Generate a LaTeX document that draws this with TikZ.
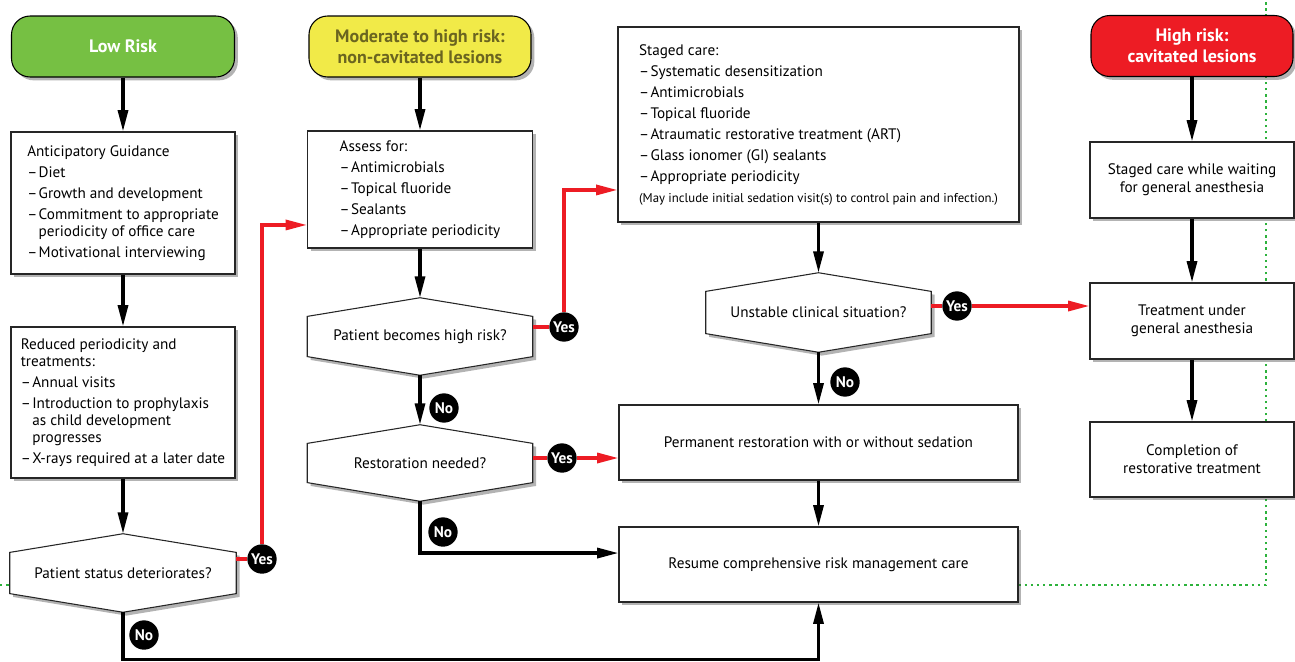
\documentclass[tikz,border=0pt]{standalone}
\usepackage{fontspec}
\setmainfont{PT Sans}
\usetikzlibrary{arrows.meta,shadows,backgrounds,calc}

\definecolor{lowgreen}{RGB}{118,192,67}
\definecolor{modyellow}{RGB}{241,234,72}
\definecolor{modtext}{RGB}{107,101,32}
\definecolor{highred}{RGB}{237,28,36}
\definecolor{loopgreen}{RGB}{45,178,60}

\newcommand{\dsh}{\makebox[8.6pt][l]{–}}
\newcommand{\ind}{\hspace*{8.6pt}}

\tikzset{
  softshadow/.style={drop shadow={shadow xshift=2.5pt, shadow yshift=-2.5pt, opacity=0.4, fill=black!75}},
  header/.style={draw=black, line width=0.8pt, rounded corners=14pt, minimum height=45.75pt,
    font=\fontsize{13.5}{16}\selectfont\bfseries, align=center, softshadow},
  box/.style={draw=black!85, line width=0.8pt, fill=white, inner sep=0pt,
    font=\fontsize{11.4}{12.75}\selectfont, softshadow},
  listbox/.style={box, align=left},
  plainbox/.style={box, align=center, font=\fontsize{11.4}{13.5}\selectfont},
  decision/.style={inner sep=0pt, align=center, font=\fontsize{11.4}{13.5}\selectfont},
  hexa/.style={draw=black!85, line width=0.8pt, fill=white, softshadow},
  badge/.style={circle, fill=black, text=white, inner sep=0pt, minimum size=22pt,
    font=\fontsize{11.5}{12}\selectfont\bfseries},
  arr/.style={line width=2.4pt, -{Triangle[length=16pt,width=7.5pt]}},
  redline/.style={line width=2.4pt, highred},
  redarr/.style={redline, -{Triangle[length=16pt,width=7.5pt]}},
  greenloop/.style={loopgreen, line width=1.8pt, dash pattern=on 1.8pt off 2.8pt}
}

\begin{document}
\begin{tikzpicture}[x=0.75pt, y=-0.75pt]
  \useasboundingbox (0,0) rectangle (1295,661);

  \node[header, fill=lowgreen, text=white, minimum width=167.25pt] (low) at (123,46.5) {Low Risk};
  \node[header, fill=modyellow, text=modtext, minimum width=166.5pt] (mod) at (420,46.5) {Moderate to high risk:\\non-cavitated lesions};
  \node[header, fill=highred, text=white, minimum width=151.5pt] (high) at (1192,46) {High risk:\\cavitated lesions};

  \node[listbox, minimum width=168pt, minimum height=106.5pt] (ag) at (123,203) {Anticipatory Guidance\\[3pt]
    \dsh Diet\\[3pt]
    \dsh Growth and development\\[3pt]
    \dsh Commitment to appropriate\\
    \ind periodicity of office care\\[3pt]
    \dsh Motivational interviewing};
  \node[listbox, minimum width=168pt, minimum height=113.25pt] (rp) at (123,402.5) {Reduced periodicity and\\
    treatments:\\[3pt]
    \dsh Annual visits\\[3pt]
    \dsh Introduction to prophylaxis\\
    \ind as child development\\
    \ind progresses\\[3pt]
    \dsh X-rays required at a later date};
  \node[decision, minimum width=169.5pt, minimum height=58.5pt] (d1) at (123,573) {Patient status deteriorates?};

  \node[listbox, minimum width=168.75pt, minimum height=87.75pt] (af) at (420,189.5) {Assess for:\\[3pt]
    \dsh Antimicrobials\\[3pt]
    \dsh Topical fluoride\\[3pt]
    \dsh Sealants\\[3pt]
    \dsh Appropriate periodicity};
  \node[decision, minimum width=168.75pt, minimum height=57.75pt] (d2) at (420,336.5) {Patient becomes high risk?};
  \node[decision, minimum width=168.75pt, minimum height=57pt] (d3) at (420,463) {Restoration needed?};

  \node[listbox, minimum width=300.75pt, minimum height=146.25pt] (sc) at (818.5,124.5) {Staged care:\\[3pt]
    \dsh Systematic desensitization\\[3pt]
    \dsh Antimicrobials\\[3pt]
    \dsh Topical fluoride\\[3pt]
    \dsh Atraumatic restorative treatment (ART)\\[3pt]
    \dsh Glass ionomer (GI) sealants\\[3pt]
    \dsh Appropriate periodicity\\[3pt]
    {\fontsize{9.6}{11}\selectfont (May include initial sedation visit(s) to control pain and infection.)}};
  \node[decision, minimum width=168.75pt, minimum height=59.25pt] (d4) at (818.5,312.5) {Unstable clinical situation?};
  \node[plainbox, minimum width=299.25pt, minimum height=56.25pt] (pr) at (818.5,442.5) {Permanent restoration with or without sedation};
  \node[plainbox, minimum width=299.25pt, minimum height=56.25pt] (rc) at (818.5,564.5) {Resume comprehensive risk management care};

  \node[plainbox, minimum width=153pt, minimum height=57pt] (sw) at (1192,180) {Staged care while waiting\\for general anesthesia};
  \node[plainbox, minimum width=153pt, minimum height=57pt] (ga) at (1192,321) {Treatment under\\general anesthesia};
  \node[plainbox, minimum width=153pt, minimum height=56.25pt] (cp) at (1192,459.5) {Completion of\\restorative treatment};

  \node[badge] (y1) at (262,559) {Yes};
  \node[badge] (y2) at (564,327) {Yes};
  \node[badge] (y3) at (562,458) {Yes};
  \node[badge] (y4) at (957,306) {Yes};
  \node[badge] (n1) at (144,635) {No};
  \node[badge] (n2) at (444,408) {No};
  \node[badge] (n3) at (443,532) {No};
  \node[badge] (n4) at (845,382) {No};

  \coordinate (topedge) at (1266,0);
  \coordinate (leftedge) at (0,585);

  \begin{scope}[on background layer]
    \draw[greenloop] ([yshift=-15.4pt]rc.east) -| (topedge);
    \draw[greenloop] (leftedge) -- (leftedge -| d1.west);
    \foreach \dn in {d1,d2,d3,d4}
      \filldraw[hexa] (\dn.north) -- ([yshift=-14pt]\dn.north east) -- ([yshift=14pt]\dn.south east)
        -- (\dn.south) -- ([yshift=14pt]\dn.south west) -- ([yshift=-14pt]\dn.north west) -- cycle;
  \end{scope}

  \draw[arr] (low) -- (ag);
  \draw[arr] (ag) -- (rp);
  \draw[arr] (rp) -- (d1);
  \draw[arr] (d1.south) -- ++(0,47) -| (rc);
  \draw[arr] (mod) -- (af);
  \draw[arr] (af) -- (d2);
  \draw[arr] (d2) -- (d3);
  \draw[arr] (d3.south) |- ([yshift=8.6pt]rc.west);
  \draw[arr] (sc) -- (d4);
  \draw[arr] (d4) -- (pr);
  \draw[arr] (pr) -- (rc);
  \draw[arr] (high) -- (sw);
  \draw[arr] (sw) -- (ga);
  \draw[arr] (ga) -- (cp);

  \draw[redline] (y1 -| d1.east) -- (y1);
  \draw[redarr] (y1) |- ([yshift=-26.6pt]af.west);
  \draw[redline] (y2 -| d2.east) -- (y2);
  \draw[redarr] (y2) |- ([yshift=-49.1pt]sc.west);
  \draw[redline] (y3 -| d3.east) -- (y3);
  \draw[redarr] (y3) -- (y3 -| pr.west);
  \draw[redline] (y4 -| d4.east) -- (y4);
  \draw[redarr] (y4) -- (y4 -| ga.west);
\end{tikzpicture}
\end{document}
